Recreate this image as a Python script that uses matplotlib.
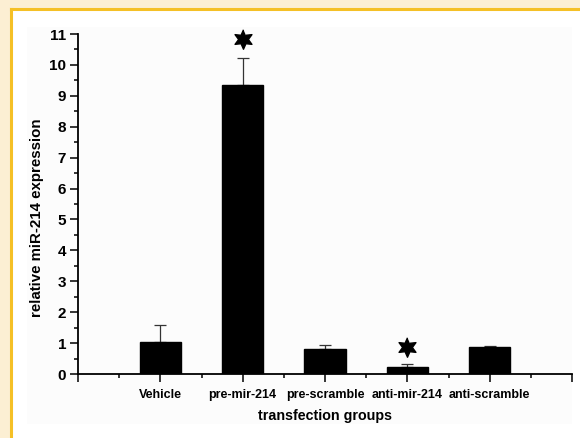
import matplotlib
matplotlib.use("Agg")
import numpy as np
import matplotlib.pyplot as plt
from matplotlib.patches import Rectangle
from matplotlib.ticker import MultipleLocator

groups = ["Vehicle", "pre-mir-214", "pre-scramble", "anti-mir-214", "anti-scramble"]
values = [1.05, 9.34, 0.80, 0.24, 0.86]
errors = [0.53, 0.89, 0.15, 0.08, 0.05]
star_groups = [1, 3]
star_y = [10.85, 0.88]

plt.rcParams['font.family'] = ['Liberation Sans', 'DejaVu Sans']

# six-pointed star marker shape
ang = np.pi / 2 + np.arange(12) * np.pi / 6
rad = np.where(np.arange(12) % 2 == 0, 1.0, 0.5)
star_marker = np.column_stack([rad * np.cos(ang), rad * np.sin(ang)])

fig = plt.figure(figsize=(5.8, 4.38), dpi=100)
fig.patch.set_facecolor('#FCEFD3')
fig.patches.append(Rectangle((11/580, 0), 1, 1 - 9/438, transform=fig.transFigure,
                             facecolor='white', edgecolor='none', zorder=-3))
fig.patches.append(Rectangle((27/580, 1 - 424/438), 545/580, 397/438, transform=fig.transFigure,
                             facecolor='#FCFCFC', edgecolor='none', zorder=-2))
fig.lines.append(plt.Line2D([11/580, 1], [1 - 9/438, 1 - 9/438], transform=fig.transFigure,
                            color='#F5C026', lw=2.2, zorder=-1))
fig.lines.append(plt.Line2D([11/580, 11/580], [0, 1 - 9/438], transform=fig.transFigure,
                            color='#F5C026', lw=2.2, zorder=-1))

ax = fig.add_axes([78/580, 1 - 374/438, (572 - 78)/580, (374 - 34)/438])
ax.set_zorder(5)
ax.set_facecolor('none')
x = list(range(1, len(groups) + 1))
ax.bar(x, values, width=0.5, color='black', edgecolor='black', zorder=2)
ax.errorbar(x, values, yerr=[[0] * len(errors), errors], fmt='none', ecolor='#333333',
            elinewidth=0.9, capsize=4, capthick=0.9, zorder=1)
for g, sy in zip(star_groups, star_y):
    ax.plot(g + 1, sy, marker=star_marker, markersize=14, color='black', linestyle='none',
            clip_on=False)

ax.set_xlim(0, 6)
ax.set_ylim(0, 11)
ax.set_xticks(range(0, 7))
ax.set_xticklabels([""] + groups + [""], fontweight='bold', fontsize=9)
ax.xaxis.set_minor_locator(MultipleLocator(0.5))
ax.yaxis.set_major_locator(MultipleLocator(1))
ax.yaxis.set_minor_locator(MultipleLocator(0.5))
for lab in ax.get_yticklabels():
    lab.set_fontweight('bold')
    lab.set_fontsize(11)
ax.tick_params(which='major', direction='out', length=5.5, width=1.1, pad=3)
ax.tick_params(which='minor', direction='out', length=3, width=1.1)
ax.tick_params(axis='x', which='major', pad=5)
ax.spines['top'].set_visible(False)
ax.spines['right'].set_visible(False)
ax.spines['left'].set_linewidth(1.3)
ax.spines['bottom'].set_linewidth(1.3)
ax.set_ylabel("relative miR-214 expression", fontweight='bold', fontsize=10.8)
ax.set_xlabel("transfection groups", fontweight='bold', fontsize=10.3)
ax.yaxis.set_label_coords(-0.068, 0.46)
ax.xaxis.set_label_coords(0.499, -0.103)

fig.savefig("out.png", dpi=100, facecolor=fig.get_facecolor())
